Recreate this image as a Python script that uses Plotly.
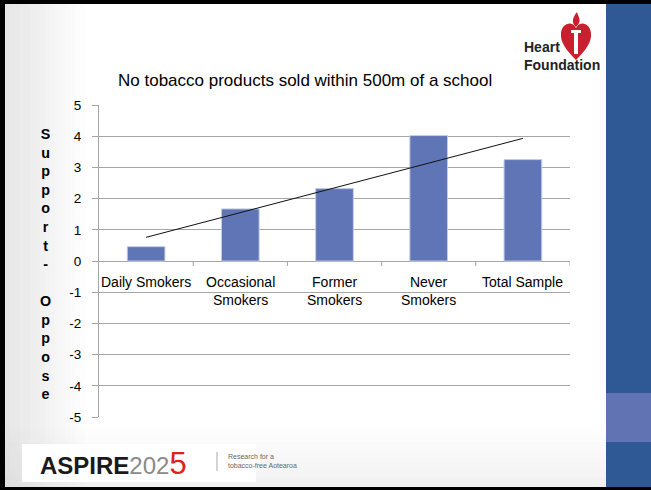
import numpy as np
import plotly.graph_objects as go

# ---- data ----
categories = ["Daily Smokers", "Occasional<br>Smokers", "Former<br>Smokers", "Never<br>Smokers", "Total Sample"]
values = [0.46, 1.67, 2.32, 4.02, 3.25]
y_ticks = [-5, -4, -3, -2, -1, 0, 1, 2, 3, 4, 5]
title_text = "No tobacco products sold within 500m of a school"
y_title_letters = ["S", "u", "p", "p", "o", "r", "t", "-", " ", "O", "p", "p", "o", "s", "e"]

W, H = 651, 490
def px(x):
    return x / W
def py(y):
    return 1 - y / H

idx = np.arange(len(values))
slope, intercept = np.polyfit(idx, values, 1)
trend_y = [intercept + slope * idx[0], intercept + slope * idx[-1]]

fig = go.Figure()
fig.add_trace(go.Bar(
    x=list(range(len(categories))), y=values, width=0.4,
    marker=dict(color="#5F75B5", line=dict(color="#C3CCE6", width=1)),
    showlegend=False, hoverinfo="y"))
fig.add_trace(go.Scatter(
    x=[idx[0], idx[-1]], y=trend_y, mode="lines",
    line=dict(color="#111111", width=1), showlegend=False, hoverinfo="skip"))

shapes = []
# slide frame and background
shapes.append(dict(type="rect", xref="paper", yref="paper", x0=0, x1=1, y0=0, y1=1,
                   fillcolor="#000000", line=dict(width=0), layer="below"))
shapes.append(dict(type="rect", xref="paper", yref="paper", x0=px(5), x1=px(606), y0=py(487), y1=py(4),
                   fillcolor="#FFFFFF", line=dict(width=0), layer="below"))
# subtle gradient on left edge
for i in range(16):
    shapes.append(dict(type="rect", xref="paper", yref="paper",
                       x0=px(5 + i * 5), x1=px(10 + i * 5), y0=py(487), y1=py(4),
                       fillcolor="rgba(200,200,200,%.3f)" % (0.45 * (1 - i / 16)),
                       line=dict(width=0), layer="below"))
# subtle gradient at bottom
for i in range(12):
    shapes.append(dict(type="rect", xref="paper", yref="paper",
                       x0=px(5), x1=px(606), y0=py(487 - i * 5), y1=py(482 - i * 5),
                       fillcolor="rgba(200,200,200,%.3f)" % (0.25 * (1 - i / 12)),
                       line=dict(width=0), layer="below"))
# right blue panel
shapes.append(dict(type="rect", xref="paper", yref="paper", x0=px(606), x1=1, y0=py(487), y1=py(4),
                   fillcolor="#2E5995", line=dict(width=0), layer="below"))
shapes.append(dict(type="rect", xref="paper", yref="paper", x0=px(606), x1=1, y0=py(442), y1=py(393),
                   fillcolor="#6273B4", line=dict(width=0), layer="below"))
# Heart Foundation logo box
shapes.append(dict(type="rect", xref="paper", yref="paper", x0=px(521), x1=px(606), y0=py(78), y1=py(10),
                   fillcolor="#FFFFFF", line=dict(width=0), layer="below"))
heart = ("M %.5f,%.5f " % (px(576), py(60)) +
         "C %.5f,%.5f %.5f,%.5f %.5f,%.5f " % (px(566), py(50), px(560), py(42), px(561), py(33)) +
         "C %.5f,%.5f %.5f,%.5f %.5f,%.5f " % (px(562), py(23), px(572), py(20), px(576), py(28)) +
         "C %.5f,%.5f %.5f,%.5f %.5f,%.5f " % (px(580), py(20), px(590), py(23), px(591), py(33)) +
         "C %.5f,%.5f %.5f,%.5f %.5f,%.5f Z" % (px(592), py(42), px(586), py(50), px(576), py(60)))
shapes.append(dict(type="path", xref="paper", yref="paper", path=heart,
                   fillcolor="#C8202F", line=dict(width=0), layer="below"))
flame = ("M %.5f,%.5f " % (px(576), py(27)) +
         "C %.5f,%.5f %.5f,%.5f %.5f,%.5f " % (px(570), py(22), px(574), py(16), px(577), py(12)) +
         "C %.5f,%.5f %.5f,%.5f %.5f,%.5f Z" % (px(578), py(17), px(583), py(21), px(576), py(27)))
shapes.append(dict(type="path", xref="paper", yref="paper", path=flame,
                   fillcolor="#C8202F", line=dict(width=0), layer="below"))
shapes.append(dict(type="rect", xref="paper", yref="paper", x0=px(574), x1=px(578), y0=py(54), y1=py(33),
                   fillcolor="#FFFFFF", line=dict(width=0), layer="below"))
shapes.append(dict(type="rect", xref="paper", yref="paper", x0=px(571), x1=px(581), y0=py(33), y1=py(30),
                   fillcolor="#FFFFFF", line=dict(width=0), layer="below"))
# ASPIRE logo box
shapes.append(dict(type="rect", xref="paper", yref="paper", x0=px(22), x1=px(256), y0=py(482), y1=py(444),
                   fillcolor="#FFFFFF", line=dict(width=0), layer="below"))
shapes.append(dict(type="line", xref="paper", yref="paper", x0=px(217), x1=px(217), y0=py(471), y1=py(452),
                   line=dict(color="#AAAAAA", width=1), layer="below"))
# x-axis tick marks at category boundaries
for b in np.arange(len(categories)) + 0.5:
    shapes.append(dict(type="line", xref="x", yref="y", x0=b, x1=b, y0=-5, y1=0,
                       ysizemode="pixel", yanchor=0, line=dict(color="#A6A6A6", width=1)))

annotations = []
annotations.append(dict(xref="paper", yref="paper", x=px(305), y=py(81), text=title_text,
                        showarrow=False, xanchor="center", yanchor="middle",
                        font=dict(family="Liberation Sans, Arial", size=17, color="#000000")))
annotations.append(dict(xref="paper", yref="paper", x=px(45), y=py(264),
                        text="<b>" + "<br>".join(y_title_letters) + "</b>", showarrow=False,
                        xanchor="center", yanchor="middle", align="center",
                        font=dict(family="Liberation Sans, Arial", size=14.3, color="#000000")))
for i, c in enumerate(categories):
    annotations.append(dict(xref="x", yref="y", x=i, y=0, text=c, showarrow=False,
                            xanchor="center", yanchor="top", yshift=-11, align="center",
                            font=dict(family="Liberation Sans, Arial", size=14, color="#000000")))
annotations.append(dict(xref="paper", yref="paper", x=px(522), y=py(56), text="<b>Heart<br>Foundation</b>",
                        showarrow=False, xanchor="left", yanchor="middle", align="left",
                        font=dict(family="Liberation Sans, Arial", size=14, color="#222222")))
annotations.append(dict(xref="paper", yref="paper", x=px(38), y=py(463),
                        text="<b>ASPIRE</b><span style='color:#8A8A8A'>202</span><span style='color:#E0201B;font-size:31px'>5</span>",
                        showarrow=False, xanchor="left", yanchor="middle",
                        font=dict(family="Liberation Sans, Arial", size=24, color="#1A1A1A")))
annotations.append(dict(xref="paper", yref="paper", x=px(226), y=py(461),
                        text="Research for a<br>tobacco-free Aotearoa", showarrow=False,
                        xanchor="left", yanchor="middle", align="left",
                        font=dict(family="Liberation Sans, Arial", size=7, color="#666666")))

fig.update_layout(
    width=W, height=H, margin=dict(l=0, r=0, t=0, b=0, pad=0, autoexpand=False),
    paper_bgcolor="#FFFFFF", plot_bgcolor="rgba(0,0,0,0)",
    shapes=shapes, annotations=annotations,
    xaxis=dict(domain=[px(99), px(570)], range=[-0.5, len(categories) - 0.5],
               showticklabels=False, showgrid=False, zeroline=False, showline=False,
               ticks="", fixedrange=True, automargin=False),
    yaxis=dict(domain=[py(417), py(105)], range=[-5, 5], tickvals=y_ticks,
               ticktext=[str(v) for v in y_ticks], automargin=False,
               showgrid=True, gridcolor="#A6A6A6", gridwidth=1,
               zeroline=True, zerolinecolor="#A6A6A6", zerolinewidth=1,
               showline=True, linecolor="#A6A6A6", linewidth=1,
               ticks="outside", ticklen=6, tickcolor="#A6A6A6", ticklabelstandoff=8,
               tickfont=dict(family="Liberation Sans, Arial", size=13.5, color="#000000"),
               fixedrange=True),
)
fig.write_html("out.html", config={"displayModeBar": False})
